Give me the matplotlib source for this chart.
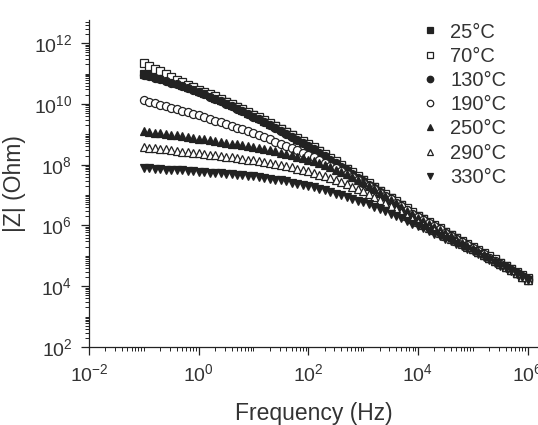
import numpy as np
import matplotlib
matplotlib.use("Agg")
from matplotlib import pyplot as plt
from matplotlib.ticker import LogLocator, NullFormatter

plt.rcParams['font.family'] = ['Liberation Sans', 'DejaVu Sans']
plt.rcParams['mathtext.fontset'] = 'custom'
plt.rcParams['mathtext.rm'] = 'Liberation Sans'

# log10 of frequency (Hz), 10 points per decade
log_freq = [-1.0, -0.9, -0.8, -0.7, -0.6, -0.5, -0.4, -0.3, -0.2, -0.1,
            0.0, 0.1, 0.2, 0.3, 0.4, 0.5, 0.6, 0.7, 0.8, 0.9,
            1.0, 1.1, 1.2, 1.3, 1.4, 1.5, 1.6, 1.7, 1.8, 1.9,
            2.0, 2.1, 2.2, 2.3, 2.4, 2.5, 2.6, 2.7, 2.8, 2.9,
            3.0, 3.1, 3.2, 3.3, 3.4, 3.5, 3.6, 3.7, 3.8, 3.9,
            4.0, 4.1, 4.2, 4.3, 4.4, 4.5, 4.6, 4.7, 4.8, 4.9,
            5.0, 5.1, 5.2, 5.3, 5.4, 5.5, 5.6, 5.7, 5.8, 5.9,
            6.0]

# log10 |Z| (Ohm)
z_25 = [11.00, 10.96, 10.91, 10.86, 10.81, 10.75, 10.69, 10.63, 10.57, 10.51,
        10.44, 10.37, 10.29, 10.21, 10.13, 10.05, 9.97, 9.89, 9.80, 9.71,
        9.63, 9.54, 9.45, 9.35, 9.26, 9.16, 9.06, 8.96, 8.86, 8.76,
        8.66, 8.55, 8.44, 8.32, 8.20, 8.09, 7.97, 7.85, 7.73, 7.61,
        7.49, 7.37, 7.25, 7.13, 7.01, 6.89, 6.78, 6.66, 6.54, 6.42,
        6.30, 6.20, 6.09, 5.99, 5.89, 5.78, 5.68, 5.58, 5.47, 5.37,
        5.27, 5.17, 5.07, 4.96, 4.86, 4.76, 4.66, 4.56, 4.45, 4.35,
        4.25]
z_70 = [11.34, 11.25, 11.16, 11.07, 10.98, 10.89, 10.80, 10.71, 10.62, 10.54,
        10.46, 10.40, 10.33, 10.25, 10.16, 10.07, 9.99, 9.91, 9.82, 9.73,
        9.65, 9.56, 9.47, 9.37, 9.28, 9.18, 9.08, 8.98, 8.88, 8.78,
        8.68, 8.57, 8.46, 8.34, 8.22, 8.11, 7.99, 7.87, 7.75, 7.63,
        7.51, 7.39, 7.27, 7.15, 7.03, 6.91, 6.80, 6.68, 6.56, 6.44,
        6.32, 6.22, 6.11, 6.01, 5.91, 5.80, 5.70, 5.60, 5.49, 5.39,
        5.29, 5.19, 5.09, 4.98, 4.88, 4.78, 4.68, 4.58, 4.47, 4.37,
        4.27]
z_130 = [10.95, 10.91, 10.86, 10.81, 10.76, 10.70, 10.64, 10.58, 10.52, 10.46,
         10.39, 10.32, 10.24, 10.16, 10.08, 10.00, 9.92, 9.84, 9.75, 9.66,
         9.58, 9.49, 9.40, 9.30, 9.21, 9.11, 9.01, 8.91, 8.81, 8.71,
         8.62, 8.51, 8.40, 8.28, 8.16, 8.05, 7.93, 7.81, 7.69, 7.57,
         7.46, 7.34, 7.22, 7.10, 6.98, 6.86, 6.75, 6.63, 6.51, 6.39,
         6.27, 6.17, 6.06, 5.96, 5.86, 5.75, 5.65, 5.55, 5.44, 5.34,
         5.24, 5.14, 5.04, 4.93, 4.83, 4.73, 4.63, 4.53, 4.42, 4.32,
         4.22]
z_190 = [10.12, 10.07, 10.02, 9.97, 9.92, 9.87, 9.82, 9.77, 9.72, 9.67,
         9.62, 9.57, 9.51, 9.45, 9.40, 9.34, 9.28, 9.22, 9.16, 9.10,
         9.04, 8.97, 8.90, 8.83, 8.76, 8.69, 8.61, 8.54, 8.47, 8.39,
         8.32, 8.24, 8.15, 8.06, 7.97, 7.88, 7.78, 7.69, 7.59, 7.50,
         7.40, 7.30, 7.19, 7.08, 6.97, 6.86, 6.74, 6.63, 6.51, 6.39,
         6.27, 6.17, 6.07, 5.97, 5.87, 5.76, 5.66, 5.56, 5.45, 5.35,
         5.25, 5.15, 5.05, 4.94, 4.84, 4.74, 4.64, 4.54, 4.43, 4.33,
         4.23]
z_250 = [9.10, 9.08, 9.05, 9.03, 9.00, 8.98, 8.96, 8.93, 8.91, 8.88,
         8.86, 8.83, 8.81, 8.78, 8.75, 8.72, 8.69, 8.67, 8.64, 8.61,
         8.58, 8.55, 8.51, 8.48, 8.44, 8.40, 8.35, 8.31, 8.26, 8.22,
         8.17, 8.11, 8.05, 7.98, 7.91, 7.84, 7.76, 7.68, 7.59, 7.51,
         7.42, 7.31, 7.20, 7.08, 6.97, 6.85, 6.73, 6.61, 6.49, 6.37,
         6.25, 6.15, 6.05, 5.95, 5.85, 5.74, 5.64, 5.54, 5.43, 5.33,
         5.23, 5.13, 5.03, 4.93, 4.83, 4.73, 4.62, 4.52, 4.42, 4.32,
         4.22]
z_290 = [8.58, 8.56, 8.54, 8.52, 8.50, 8.48, 8.45, 8.43, 8.41, 8.39,
         8.37, 8.35, 8.33, 8.31, 8.28, 8.26, 8.24, 8.22, 8.19, 8.17,
         8.15, 8.12, 8.09, 8.06, 8.02, 7.98, 7.95, 7.91, 7.87, 7.82,
         7.78, 7.73, 7.67, 7.62, 7.56, 7.49, 7.42, 7.35, 7.28, 7.20,
         7.12, 7.03, 6.93, 6.83, 6.73, 6.63, 6.53, 6.43, 6.32, 6.22,
         6.12, 6.03, 5.93, 5.84, 5.75, 5.66, 5.57, 5.48, 5.39, 5.30,
         5.22, 5.12, 5.02, 4.92, 4.82, 4.72, 4.62, 4.52, 4.42, 4.32,
         4.22]
z_330 = [7.89, 7.88, 7.87, 7.85, 7.84, 7.83, 7.82, 7.81, 7.80, 7.78,
         7.77, 7.76, 7.74, 7.73, 7.71, 7.70, 7.68, 7.67, 7.65, 7.64,
         7.62, 7.60, 7.57, 7.54, 7.51, 7.48, 7.45, 7.41, 7.38, 7.34,
         7.30, 7.26, 7.21, 7.16, 7.11, 7.05, 7.00, 6.94, 6.88, 6.82,
         6.76, 6.69, 6.62, 6.55, 6.47, 6.39, 6.31, 6.23, 6.15, 6.06,
         5.98, 5.90, 5.82, 5.73, 5.65, 5.57, 5.48, 5.40, 5.32, 5.23,
         5.15, 5.06, 4.96, 4.87, 4.78, 4.68, 4.59, 4.50, 4.40, 4.31,
         4.22]

labels = ['25°C', '70°C', '130°C', '190°C', '250°C', '290°C', '330°C']
series = [z_25, z_70, z_130, z_190, z_250, z_290, z_330]
markers = ['s', 's', 'o', 'o', '^', '^', 'v']
filled = [True, False, True, False, True, False, True]

ink = '#222222'
txt = '#333333'
freq = 10 ** np.array(log_freq)

fig = plt.figure(figsize=(5.38, 4.25), dpi=100)
ax = fig.add_axes([0.1654, 0.1835, 0.8346, 0.7694])

for z, lab, m, f in zip(series, labels, markers, filled):
    ax.plot(freq, 10 ** np.array(z), linestyle='none', marker=m, markersize=5.8,
            markerfacecolor=ink if f else 'white', markeredgecolor=ink,
            markeredgewidth=0.9, label=lab)

ax.set_xscale('log')
ax.set_yscale('log')
ax.set_xlim(1e-2, 10 ** 6.19)
ax.set_ylim(1e2, 10 ** 12.76)

ax.xaxis.set_major_locator(LogLocator(base=100))
ax.yaxis.set_major_locator(LogLocator(base=100))
ax.xaxis.set_minor_locator(LogLocator(base=10, subs=np.arange(1, 10), numticks=50))
ax.yaxis.set_minor_locator(LogLocator(base=10, subs=np.arange(1, 10), numticks=50))
ax.xaxis.set_minor_formatter(NullFormatter())
ax.yaxis.set_minor_formatter(NullFormatter())

for s in ['top', 'right']:
    ax.spines[s].set_visible(False)
for s in ['left', 'bottom']:
    ax.spines[s].set_color(ink)
    ax.spines[s].set_linewidth(0.9)

ax.tick_params(which='major', direction='out', length=6, width=0.9, color=ink,
               labelsize=14, labelcolor=txt, pad=6)
ax.tick_params(which='minor', direction='out', length=3, width=0.7, color=ink)

ax.set_xlabel('Frequency (Hz)', fontsize=16.5, color=txt, labelpad=12)
ax.set_ylabel('|Z| (Ohm)', fontsize=16.5, color=txt, labelpad=6)

leg = ax.legend(loc='upper left', bbox_to_anchor=(0.724, 1.017), frameon=False,
                fontsize=14.5, handlelength=0.8, handletextpad=0.6,
                labelspacing=0.26, markerscale=0.8, borderaxespad=0)
for t in leg.get_texts():
    t.set_color(txt)

fig.savefig('out.png', dpi=100)
